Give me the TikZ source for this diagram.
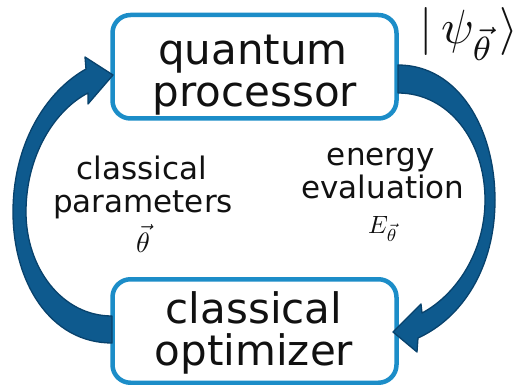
\RequirePackage{fix-cm}
\documentclass[tikz,border=0pt]{standalone}
\usepackage{fontspec}
\setmainfont{DejaVu Sans}
\definecolor{boxblue}{RGB}{28,141,200}
\definecolor{arrfill}{RGB}{14,90,142}
\definecolor{arredge}{RGB}{8,66,108}
\definecolor{txt}{RGB}{17,17,17}
\tikzset{
  procbox/.style={draw=boxblue, line width=4.5pt, rounded corners=18pt,
    minimum width=284pt, minimum height=103.5pt, fill=white},
  bigtext/.style={anchor=base, inner sep=0pt, text=txt,
    font=\fontsize{42}{42}\selectfont},
  smalltext/.style={anchor=base, inner sep=0pt, text=txt,
    font=\fontsize{31}{33}\selectfont},
  mathlabel/.style={anchor=base, inner sep=0pt, text=txt,
    font=\fontsize{10}{12}\selectfont, scale=2.5},
  bigarrow/.style={fill=arrfill, draw=arredge, line width=1.3pt, line join=round}
}
\begin{document}
\begin{tikzpicture}[x=1pt,y=-1pt]
\useasboundingbox (0,0) rectangle (519,385);

% boxes
\node[procbox] (qp) at (254.5,66.75) {};
\node[procbox] (co) at (254.5,331) {};

% box texts
\node[bigtext] (qp1) at (253,65) {quantum};
\node[bigtext] (qp2) at (255,107) {processor};
\node[bigtext] (co1) at (254,323) {classical};
\node[bigtext] (co2) at (254,365) {optimizer};

% left arrow: classical optimizer -> quantum processor
\coordinate (la0) at (112,343);
\coordinate (la1) at (112,316);
\coordinate (latip) at (113,75);
\draw[bigarrow]
  (la0) .. controls (50,343) and (13,282) .. (13,212)
        .. controls (13,145) and (45,92) .. (86,69)
  -- (85,57) -- (latip) -- (88,104) -- (88,93)
        .. controls (55,110) and (26,155) .. (26,212)
        .. controls (26,268) and (62,316) .. (la1)
  -- cycle;

% right arrow: quantum processor -> classical optimizer
\coordinate (ra0) at (398,65);
\coordinate (ra1) at (398,93);
\coordinate (ratip) at (393,332);
\draw[bigarrow]
  (ra0) .. controls (458,65) and (495,128) .. (495,200)
        .. controls (495,268) and (462,318) .. (418,338)
  -- (417,352) -- (ratip) -- (421,304) -- (422,313)
        .. controls (456,295) and (485,252) .. (485,200)
        .. controls (485,140) and (448,93) .. (ra1)
  -- cycle;

% labels
\node[smalltext] (lp1) at (142,179) {classical};
\node[smalltext] (lp2) at (143,212) {parameters};
\node[mathlabel, scale=1.12] (lp3) at (143,252) {$\vec{\theta}$};
\node[smalltext] (ee1) at (381,165) {energy};
\node[smalltext] (ee2) at (383,198) {evaluation};
\node[mathlabel] (ee3) at (383,233) {$E_{\vec{\theta}}$};

% state
\node[anchor=base, inner sep=0pt, text=txt, font=\fontsize{10}{12}\selectfont, scale=4.8]
  (psi) at (469,44) {$|\mkern3mu\psi_{\vec{\theta}}\mkern2mu\rangle$};
\end{tikzpicture}
\end{document}
